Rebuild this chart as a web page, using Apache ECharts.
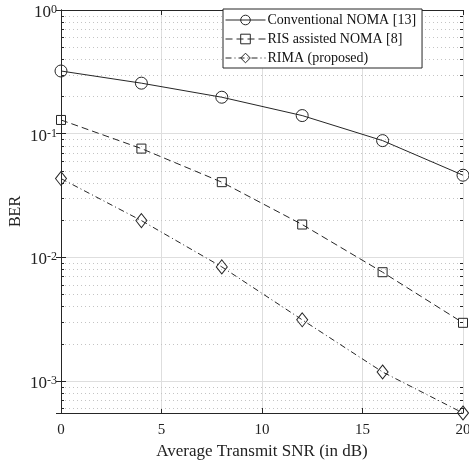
<!DOCTYPE html>
<html>
<head>
<meta charset="utf-8">
<script src="https://cdn.jsdelivr.net/npm/echarts@6/dist/echarts.min.js"></script>
<style>
html,body{margin:0;padding:0;background:#fff;}
#c{width:469px;height:462px;}
</style>
</head>
<body>
<div id="c"></div>
<script>
const snr = [0, 4, 8, 12, 16, 20];
const berConventional = [0.321, 0.256, 0.197, 0.140, 0.0878, 0.0461];
const berRis = [0.129, 0.0757, 0.0405, 0.0184, 0.00757, 0.00295];
const berRima = [0.0433, 0.0198, 0.00836, 0.00312, 0.00118, 0.00055];
const seriesNames = ['Conventional NOMA [13]', 'RIS assisted NOMA [8]', 'RIMA (proposed)'];
const xTickValues = [0, 5, 10, 15, 20];
const yMinorTicks = [
  0.0006, 0.0007, 0.0008, 0.0009,
  0.002, 0.003, 0.004, 0.005, 0.006, 0.007, 0.008, 0.009,
  0.02, 0.03, 0.04, 0.05, 0.06, 0.07, 0.08, 0.09,
  0.2, 0.3, 0.4, 0.5, 0.6, 0.7, 0.8, 0.9
];
const yMin = 0.00055, yMax = 1;

const FONT = 'Liberation Serif';
const INK = '#262626';

function pair(xs, ys) { return xs.map((x, i) => [x, ys[i]]); }

function yLabel(v) {
  const e = Math.log10(v);
  const r = Math.round(e);
  if (Math.abs(e - r) > 1e-6) return '';
  return '{b|10}{s|' + r + '}';
}

const chart = echarts.init(document.getElementById('c'), null, {renderer: 'canvas'});

const lineCommon = {
  type: 'line',
  showAllSymbol: true,
  z: 5,
  clip: false,
  animation: false,
  itemStyle: {color: 'rgba(255,255,255,0)', borderColor: INK, borderWidth: 1},
  emphasis: {disabled: true}
};

chart.setOption({
  animation: false,
  backgroundColor: '#fff',
  grid: {left: 61, right: 6, top: 10, bottom: 49, containLabel: false, outerBoundsMode: 'none'},
  legend: {
    data: seriesNames,
    orient: 'vertical',
    left: 223, top: 9,
    padding: [4, 6, 3, 2],
    itemGap: 5,
    itemWidth: 40,
    itemHeight: 12,
    backgroundColor: '#fff',
    borderColor: INK,
    borderWidth: 1,
    borderRadius: 0,
    z: 20,
    selectedMode: false,
    lineStyle: {width: 1},
    itemStyle: {borderWidth: 1},
    textStyle: {fontFamily: FONT, fontSize: 14, color: '#111', padding: [0, 0, 0, -3]}
  },
  xAxis: [{
    type: 'value', min: 0, max: 20, interval: 5,
    name: 'Average Transmit SNR (in dB)', nameLocation: 'middle', nameGap: 30,
    nameTextStyle: {fontFamily: FONT, fontSize: 17, color: '#222'},
    axisLine: {show: true, lineStyle: {color: INK, width: 1}},
    axisTick: {show: true, inside: true, length: 5, lineStyle: {color: INK}},
    axisLabel: {fontFamily: FONT, fontSize: 15, color: '#222', margin: 10},
    splitLine: {show: true, lineStyle: {color: '#dedede', width: 1}}
  }, {
    type: 'value', min: 0, max: 20, interval: 5, position: 'top',
    axisLine: {show: true, lineStyle: {color: INK, width: 1}},
    axisTick: {show: true, inside: true, length: 5, lineStyle: {color: INK}},
    axisLabel: {show: false},
    splitLine: {show: false}
  }],
  yAxis: [{
    type: 'log', logBase: 10, min: yMin, max: yMax,
    name: 'BER', nameLocation: 'middle', nameGap: 37, nameMoveOverlap: false,
    nameTextStyle: {fontFamily: FONT, fontSize: 16, color: '#222'},
    axisLine: {show: true, lineStyle: {color: INK, width: 1}},
    axisTick: {show: true, inside: true, length: 5, lineStyle: {color: INK}},
    axisLabel: {
      formatter: yLabel, margin: 4, padding: [5, 0, 0, 0],
      rich: {
        b: {fontFamily: FONT, fontSize: 17, color: '#222', verticalAlign: 'bottom', lineHeight: 17},
        s: {fontFamily: FONT, fontSize: 12, color: '#222', verticalAlign: 'top', padding: [0, 0, 7, 0], lineHeight: 12}
      }
    },
    splitLine: {show: true, lineStyle: {color: '#dedede', width: 1}}
  }, {
    type: 'log', logBase: 10, min: yMin, max: yMax, position: 'right',
    axisLine: {show: true, lineStyle: {color: INK, width: 1}},
    axisTick: {show: true, inside: true, length: 5, lineStyle: {color: INK}},
    axisLabel: {show: false},
    splitLine: {show: false}
  }],
  series: [
    {
      type: 'custom',
      name: 'minorGrid',
      silent: true,
      z: 1,
      clip: false,
      animation: false,
      xAxisIndex: 0, yAxisIndex: 0,
      data: yMinorTicks.map(v => [0, v]),
      encode: {x: 0, y: 1},
      renderItem: function (params, api) {
        const cs = params.coordSys;
        const y = Math.round(api.coord([0, api.value(1)])[1]) + 0.5;
        const x0 = cs.x, x1 = cs.x + cs.width;
        return {
          type: 'group',
          children: [
            {type: 'line', shape: {x1: x0 + 4, y1: y, x2: x1 - 4, y2: y},
             style: {stroke: '#c4c4c4', lineWidth: 1, lineDash: [1, 3]}},
            {type: 'line', shape: {x1: x0, y1: y, x2: x0 + 3, y2: y},
             style: {stroke: INK, lineWidth: 1}},
            {type: 'line', shape: {x1: x1 - 3, y1: y, x2: x1, y2: y},
             style: {stroke: INK, lineWidth: 1}}
          ]
        };
      }
    },
    Object.assign({}, lineCommon, {
      name: seriesNames[0],
      data: pair(snr, berConventional),
      symbol: 'circle', symbolSize: 12,
      lineStyle: {color: INK, width: 1, type: 'solid'}
    }),
    Object.assign({}, lineCommon, {
      name: seriesNames[1],
      data: pair(snr, berRis),
      symbol: 'rect', symbolSize: 9,
      lineStyle: {color: INK, width: 1, type: [7, 4]}
    }),
    Object.assign({}, lineCommon, {
      name: seriesNames[2],
      data: pair(snr, berRima),
      symbol: 'diamond', symbolSize: [11, 14],
      lineStyle: {color: INK, width: 1, type: [6, 3, 1, 3]}
    })
  ]
});
</script>
</body>
</html>
